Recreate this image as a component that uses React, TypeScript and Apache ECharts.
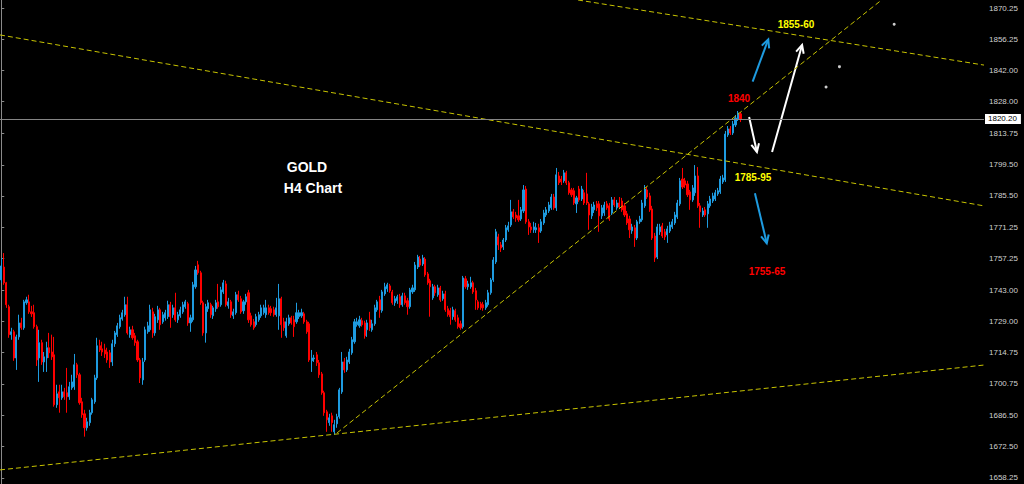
import React, { useEffect, useRef } from "react";
import * as echarts from "echarts";

// ---- candle data (GOLD H4), oldest -> newest ----
const opens = [
1747.6,1753.4,1746.3,1735.5,1722.9,1724.2,1712.4,1721.9,1728.2,1726.0,1737.3,1737.7,1733.2,1732.8,1726.5,1712.4,1719.3,1710.6,1712.4,1717.0,
1715.1,1713.8,1691.3,1697.1,1694.4,1697.1,1696.7,1694.9,1698.9,1699.4,1709.3,1704.8,1692.6,1687.2,1680.9,1683.2,1687.7,1692.6,1703.4,1717.9,
1716.5,1716.0,1715.1,1714.7,1710.6,1718.8,1722.9,1726.5,1730.0,1731.9,1736.4,1722.9,1725.1,1722.4,1719.7,1711.5,1702.5,1711.5,1724.2,1725.1,
1733.2,1723.7,1729.6,1734.1,1728.7,1730.5,1731.0,1736.4,1731.9,1735.0,1729.6,1731.4,1733.2,1735.5,1736.8,1728.2,1729.6,1744.5,1754.4,1750.8,
1737.3,1723.7,1734.6,1736.4,1731.4,1734.6,1737.7,1736.4,1742.2,1745.8,1735.9,1737.7,1731.4,1732.8,1740.9,1739.1,1733.7,1737.7,1741.8,1731.4,
1728.7,1727.4,1729.6,1731.4,1732.8,1731.9,1735.0,1734.6,1734.1,1731.9,1731.4,1739.1,1728.7,1722.4,1727.8,1730.5,1729.6,1728.7,1731.0,1731.4,
1732.3,1728.7,1727.8,1711.1,1712.0,1713.8,1710.2,1705.2,1696.7,1688.1,1683.2,1686.3,1679.1,1682.7,1685.9,1697.1,1710.6,1707.0,1710.6,1714.7,
1719.7,1727.4,1726.9,1729.2,1728.2,1725.1,1729.6,1725.1,1727.8,1734.1,1738.6,1733.7,1741.3,1743.6,1744.9,1742.2,1737.3,1738.2,1740.0,1736.4,
1740.4,1738.2,1735.5,1742.2,1743.1,1753.4,1757.0,1754.8,1757.0,1750.3,1747.2,1739.5,1744.5,1740.9,1744.0,1739.1,1741.3,1734.6,1733.7,1731.0,
1733.7,1730.5,1727.8,1726.5,1748.1,1744.5,1744.5,1746.3,1742.7,1737.7,1736.8,1736.4,1735.0,1736.4,1741.8,1747.6,1755.7,1767.0,1763.4,1762.5,
1765.6,1770.2,1772.4,1778.3,1776.9,1776.5,1775.1,1778.7,1788.6,1773.8,1771.5,1770.2,1770.2,1771.1,1769.7,1773.3,1776.9,1778.7,1780.1,1785.0,
1780.1,1794.5,1793.1,1792.3,1795.9,1791.4,1788.2,1787.8,1781.9,1788.6,1784.1,1786.9,1786.4,1781.9,1776.5,1779.2,1781.9,1781.9,1776.5,1777.8,
1781.9,1781.0,1777.8,1783.7,1780.1,1782.3,1783.2,1781.0,1777.4,1775.1,1769.7,1771.1,1766.5,1773.8,1774.7,1781.0,1788.2,1785.5,1779.6,1767.4,
1757.9,1769.3,1772.0,1769.3,1767.9,1769.7,1771.5,1773.3,1776.0,1781.9,1793.1,1792.3,1790.9,1787.3,1783.7,1786.9,1794.5,
1781.0,1776.9,1779.2,1777.4,1781.0,1783.2,1784.1,1786.4,1787.3,1791.8,1792.7,1813.0,1815.7,1813.9,1817.5,1820.2,1822.5
];
const closes = [
1753.9,1746.3,1736.4,1722.9,1724.2,1712.4,1721.9,1728.2,1726.0,1737.7,1738.6,1733.2,1732.3,1726.5,1711.5,1719.3,1710.6,1712.9,1717.0,1714.7,
1712.9,1691.3,1696.2,1694.4,1697.1,1694.9,1694.9,1699.4,1701.6,1709.3,1704.8,1692.2,1686.8,1680.9,1683.6,1687.7,1693.5,1703.4,1717.9,1716.0,
1715.1,1714.2,1711.5,1710.6,1718.8,1723.7,1726.9,1730.5,1732.8,1736.4,1723.7,1725.1,1721.5,1719.3,1711.5,1703.4,1710.6,1725.1,1726.9,1734.1,
1723.7,1731.0,1734.1,1727.4,1731.9,1732.8,1736.4,1731.0,1735.0,1729.6,1731.9,1734.1,1736.4,1737.7,1728.2,1730.5,1745.4,1752.1,1750.8,1737.3,
1723.7,1735.5,1737.3,1731.9,1735.0,1737.3,1735.5,1743.1,1746.3,1736.4,1737.7,1731.9,1733.2,1740.9,1738.6,1733.2,1737.7,1740.0,1729.6,1727.4,
1726.0,1731.0,1731.9,1735.0,1735.0,1735.0,1732.8,1732.8,1731.9,1735.0,1739.1,1727.4,1726.0,1728.7,1730.5,1728.2,1726.5,1732.8,1732.8,1732.8,
1728.7,1724.2,1711.5,1712.4,1712.4,1710.2,1704.8,1696.7,1687.7,1684.5,1685.4,1683.2,1682.3,1685.9,1698.0,1710.6,1707.0,1711.5,1715.1,1720.6,
1728.7,1728.7,1729.6,1727.4,1722.4,1728.2,1726.0,1727.8,1735.0,1737.7,1734.1,1742.2,1744.5,1745.4,1742.7,1737.3,1739.1,1740.0,1736.4,1740.4,
1737.3,1735.5,1743.1,1744.0,1754.3,1757.9,1754.3,1757.5,1749.9,1746.3,1744.5,1744.5,1741.8,1744.0,1738.6,1741.3,1734.1,1731.9,1731.0,1734.1,
1729.6,1726.5,1726.0,1748.5,1744.5,1745.8,1746.3,1742.2,1738.6,1735.0,1735.0,1735.0,1737.3,1741.8,1747.6,1756.6,1769.3,1763.4,1762.0,1765.6,
1771.1,1772.0,1778.3,1776.0,1775.6,1774.7,1779.2,1788.2,1773.8,1771.5,1770.2,1771.5,1771.1,1769.3,1773.8,1777.8,1779.2,1781.4,1785.0,1780.1,
1795.0,1791.4,1791.8,1795.9,1791.4,1786.9,1786.0,1782.3,1784.6,1783.7,1788.6,1782.3,1782.3,1776.9,1780.5,1781.4,1780.1,1776.5,1780.1,1781.4,
1780.1,1775.1,1783.7,1781.4,1782.3,1780.5,1779.2,1776.9,1773.3,1770.2,1771.5,1766.5,1773.8,1775.1,1782.3,1788.6,1785.0,1779.2,1766.5,1757.5,
1771.5,1771.5,1767.4,1767.0,1770.6,1772.4,1773.8,1776.9,1782.3,1792.3,1789.5,1790.4,1786.0,1783.7,1789.1,1794.5,1781.0,
1778.3,1778.7,1776.9,1781.9,1784.1,1785.5,1786.9,1787.8,1793.1,1793.6,1813.4,1815.7,1813.9,1817.9,1820.6,1822.9,1820.2
];
const lows = [
1746.3,1745.4,1735.0,1721.5,1720.6,1711.1,1707.0,1720.6,1725.1,1725.1,1736.4,1732.3,1730.9,1725.6,1708.8,1701.6,1709.3,1706.1,1706.1,1712.4,
1711.5,1690.4,1689.9,1687.7,1693.5,1693.5,1687.7,1693.5,1698.0,1698.0,1703.4,1691.3,1685.4,1676.9,1679.6,1681.8,1686.8,1691.7,1702.5,1715.1,
1713.3,1712.4,1710.2,1707.9,1708.8,1717.4,1721.9,1725.6,1729.2,1731.0,1722.9,1721.5,1720.6,1717.9,1710.6,1701.1,1700.3,1710.6,1723.3,1724.2,
1721.5,1722.4,1728.2,1725.1,1727.8,1729.2,1730.0,1726.0,1730.5,1728.7,1728.2,1730.5,1732.3,1734.6,1726.9,1724.2,1728.7,1743.6,1749.9,1736.4,
1722.4,1719.3,1733.2,1730.5,1730.0,1733.2,1734.6,1735.5,1741.3,1735.5,1734.6,1730.5,1730.0,1731.9,1737.7,1732.3,1732.3,1736.4,1728.2,1726.5,
1725.1,1726.5,1728.7,1730.5,1731.9,1730.5,1731.9,1731.4,1731.0,1731.0,1725.1,1721.5,1724.6,1721.5,1726.9,1727.4,1721.9,1727.8,1730.0,1730.5,
1727.8,1723.3,1710.6,1706.1,1710.6,1708.8,1703.4,1695.8,1686.3,1679.1,1681.8,1679.1,1677.8,1680.9,1685.0,1696.2,1705.7,1706.1,1709.7,1713.8,
1718.8,1726.5,1726.0,1726.5,1721.1,1721.9,1724.6,1724.2,1726.9,1733.2,1730.5,1732.8,1740.4,1742.2,1741.8,1736.4,1735.9,1736.8,1735.0,1735.5,
1736.4,1731.9,1734.6,1741.3,1742.2,1752.5,1753.4,1753.9,1749.0,1745.4,1731.0,1738.6,1740.4,1740.0,1737.7,1738.2,1733.2,1731.0,1727.4,1729.6,
1728.7,1725.6,1725.1,1725.6,1743.6,1743.1,1743.6,1741.3,1734.1,1734.1,1734.1,1733.7,1734.1,1735.5,1740.9,1746.7,1754.8,1761.1,1760.2,1761.1,
1764.7,1769.3,1771.5,1775.1,1773.8,1773.8,1774.2,1777.8,1772.9,1767.9,1768.8,1768.8,1768.8,1764.3,1768.8,1772.4,1776.0,1777.8,1779.2,1779.2,
1778.7,1790.4,1790.4,1791.4,1790.4,1786.0,1785.0,1781.4,1777.8,1782.8,1783.2,1781.4,1781.4,1770.2,1775.1,1777.8,1778.7,1769.3,1775.1,1776.5,
1779.2,1774.2,1776.9,1780.5,1779.2,1779.6,1778.3,1776.0,1772.4,1766.5,1768.4,1762.5,1765.6,1772.9,1773.8,1780.1,1784.1,1778.3,1765.6,1755.7,
1757.0,1767.9,1766.5,1765.6,1764.3,1768.8,1770.6,1772.4,1775.1,1781.0,1788.6,1789.1,1785.0,1779.2,1782.8,1785.5,1780.1,
1771.1,1776.0,1776.0,1771.1,1780.1,1782.3,1783.2,1785.5,1786.4,1790.9,1791.8,1812.1,1813.0,1813.0,1816.6,1819.3,1818.8
];
const highs = [
1757.5,1759.7,1746.7,1736.4,1726.0,1725.1,1722.9,1731.9,1730.5,1738.6,1740.0,1740.9,1735.9,1736.4,1727.4,1725.1,1720.6,1715.1,1719.7,1723.7,
1722.9,1721.9,1700.3,1700.3,1700.3,1698.9,1707.9,1701.6,1704.8,1714.2,1710.2,1705.7,1694.4,1689.0,1685.4,1689.0,1694.4,1704.8,1721.5,1720.6,
1719.7,1718.8,1717.0,1716.0,1720.6,1724.6,1728.2,1731.9,1734.1,1740.0,1740.0,1726.5,1726.9,1723.7,1720.6,1712.4,1712.4,1726.5,1728.7,1736.4,
1735.0,1732.3,1735.9,1735.0,1733.2,1734.1,1738.2,1737.7,1736.4,1741.8,1733.2,1735.5,1737.7,1738.6,1737.7,1731.9,1746.7,1753.9,1756.2,1751.7,
1738.2,1736.8,1738.6,1737.3,1735.9,1738.6,1745.8,1744.5,1747.6,1747.2,1739.5,1738.6,1734.6,1742.2,1742.7,1740.4,1738.6,1741.3,1743.1,1732.8,
1730.0,1732.3,1733.2,1736.4,1736.4,1738.6,1736.4,1735.9,1735.5,1739.5,1745.8,1740.0,1730.5,1730.5,1731.9,1731.4,1731.4,1737.3,1734.1,1734.6,
1733.2,1729.6,1728.7,1716.0,1713.8,1715.1,1711.5,1706.1,1697.6,1689.0,1687.2,1687.7,1684.5,1687.2,1698.9,1715.1,1712.4,1712.9,1716.5,1721.9,
1730.0,1730.5,1731.4,1730.5,1729.2,1729.6,1733.2,1729.6,1736.4,1738.6,1740.4,1743.1,1746.3,1746.3,1745.8,1743.1,1740.4,1740.9,1741.3,1741.8,
1741.8,1739.5,1744.0,1745.4,1755.7,1758.9,1758.4,1758.9,1757.9,1751.2,1748.1,1745.8,1745.4,1745.4,1744.9,1742.7,1742.7,1735.9,1735.0,1735.5,
1734.6,1731.9,1729.2,1749.4,1749.4,1747.2,1749.0,1747.2,1744.0,1738.6,1737.7,1737.7,1738.6,1743.1,1748.5,1757.9,1770.6,1768.4,1764.7,1766.5,
1772.4,1773.8,1783.7,1779.6,1778.3,1783.7,1780.5,1790.4,1790.0,1775.1,1773.3,1773.8,1773.3,1772.9,1775.1,1779.2,1780.5,1782.8,1786.4,1786.4,
1798.1,1796.3,1794.5,1797.2,1796.8,1792.3,1789.1,1789.1,1785.5,1790.0,1790.0,1788.2,1795.9,1782.8,1781.9,1782.8,1783.2,1783.2,1781.4,1782.8,
1783.2,1782.3,1785.0,1785.0,1783.7,1785.0,1784.6,1782.3,1778.7,1776.5,1772.9,1772.4,1774.7,1776.5,1783.7,1790.4,1789.5,1786.9,1781.0,1768.8,
1772.9,1772.9,1773.3,1770.6,1772.0,1773.8,1775.1,1778.3,1783.7,1793.6,1798.1,1793.6,1792.3,1788.2,1790.4,1799.4,1798.5,
1782.3,1780.1,1780.5,1783.2,1785.5,1786.9,1788.2,1789.1,1794.5,1795.0,1814.8,1817.0,1817.0,1819.3,1822.0,1823.8,1823.3
];

// total bar slots on the chart (data + empty right-side shift)
const TOTAL_SLOTS = 390;

// price axis tick labels
const yTicks = [1658.25,1672.5,1686.5,1700.75,1714.75,1729,1743,1757.25,1771.25,1785.5,1799.5,1813.75,1828,1842,1856.25,1870.25];
const yMin = 1655.54;
const yMax = 1873.86;
const currentPrice = 1820.2;

// trend lines: [slot position, price] pairs
const trendLines = [
  [[228.6, 1873.86], [389.5, 1844.5]],
  [[-0.5, 1858.1], [389.5, 1781.0]],
  [[133.1, 1678.6], [348.9, 1873.86]],
  [[-0.5, 1661.9], [389.5, 1709.2]],
];

// arrows: [from, to] in [slot position, price]
const blueArrows = [
  [[297.8, 1837.0], [304.0, 1856.1]],
  [[298.7, 1786.7], [303.4, 1764.1]],
];
const whiteArrows = [
  [[296.4, 1821.1], [299.5, 1805.3]],
  [[305.5, 1805.3], [317.4, 1853.6]],
];

// small white marker dots
const dots = [[353.9, 1862.9], [332.2, 1843.8], [326.9, 1834.6]];

const BULL = "#1E9BE0";
const BEAR = "#FF0000";
const FONT = "Liberation Sans, Arial, sans-serif";

export default function App() {
  const ref = useRef<HTMLDivElement>(null);
  useEffect(() => {
    if (!ref.current) return;
    const chart = echarts.init(ref.current, null, { renderer: "svg" });
    const cats = Array.from({ length: TOTAL_SLOTS }, (_, i) => String(i));
    const candleData = opens.map((o, i) => [o, closes[i], lows[i], highs[i]]);

    const option: any = {
      animation: false,
      backgroundColor: "#000000",
      grid: { left: 0, right: 40, top: 0, bottom: 0, containLabel: false },
      xAxis: [
        { type: "category", data: cats, show: false, boundaryGap: true },
        { type: "value", min: -0.5, max: TOTAL_SLOTS - 0.5, show: false },
      ],
      yAxis: {
        type: "value",
        position: "right",
        min: yMin,
        max: yMax,
        splitLine: { show: false },
        axisLine: { show: true, lineStyle: { color: "#8a8a8a", width: 1 } },
        axisTick: { show: true, length: 3, lineStyle: { color: "#8a8a8a" }, customValues: yTicks },
        axisLabel: {
          color: "#d0d0d0",
          fontSize: 8,
          fontFamily: FONT,
          margin: 5,
          customValues: yTicks,
          formatter: (v: number) => v.toFixed(2),
        },
      },
      series: [
        {
          type: "candlestick",
          xAxisIndex: 0,
          yAxisIndex: 0,
          data: candleData,
          barWidth: 1.6,
          itemStyle: {
            color: BULL,
            color0: BEAR,
            borderColor: BULL,
            borderColor0: BEAR,
            borderWidth: 1,
          },
          markLine: {
            silent: true,
            symbol: ["none", "none"],
            lineStyle: { color: "#858585", width: 1, type: "solid" },
            label: {
              show: true,
              position: "end",
              formatter: () => currentPrice.toFixed(2),
              backgroundColor: "#ffffff",
              color: "#000000",
              fontSize: 8,
              fontFamily: FONT,
              padding: [1, 4, 1, 3],
              distance: 1,
            },
            data: [{ yAxis: currentPrice }],
          },
        },
        ...trendLines.map((pts) => ({
          type: "line",
          xAxisIndex: 1,
          yAxisIndex: 0,
          data: pts,
          symbol: "none",
          silent: true,
          lineStyle: { color: "#C8C400", width: 1, type: [5, 3] },
        })),
        {
          type: "scatter",
          xAxisIndex: 1,
          yAxisIndex: 0,
          data: dots,
          symbolSize: 3,
          silent: true,
          itemStyle: { color: "#ffffff" },
        },
      ],
      graphic: [
        { type: "text", x: 307, y: 167, style: { text: "GOLD", fill: "#fff", font: `bold 14px ${FONT}`, align: "center", verticalAlign: "middle" } },
        { type: "text", x: 313, y: 188, style: { text: "H4 Chart", fill: "#fff", font: `bold 14px ${FONT}`, align: "center", verticalAlign: "middle" } },
        { type: "text", x: 739, y: 98, style: { text: "1840", fill: "#ff0000", font: `bold 10px ${FONT}`, align: "center", verticalAlign: "middle" } },
        { type: "text", x: 796, y: 24.5, style: { text: "1855-60", fill: "#ffff00", font: `bold 10px ${FONT}`, align: "center", verticalAlign: "middle" } },
        { type: "text", x: 753, y: 177, style: { text: "1785-95", fill: "#ffff00", font: `bold 10px ${FONT}`, align: "center", verticalAlign: "middle" } },
        { type: "text", x: 767, y: 271, style: { text: "1755-65", fill: "#ff0000", font: `bold 10px ${FONT}`, align: "center", verticalAlign: "middle" } },
      ],
    };
    chart.setOption(option);

    const toPx = (p: number[]) => chart.convertToPixel({ xAxisIndex: 1, yAxisIndex: 0 } as any, p) as number[];
    const arrow = (a: number[], b: number[], color: string, w: number, head: number) => {
      const A = toPx(a);
      const B = toPx(b);
      const dx = B[0] - A[0];
      const dy = B[1] - A[1];
      const len = Math.sqrt(dx * dx + dy * dy) || 1;
      const ux = dx / len;
      const uy = dy / len;
      const ang = 0.45;
      const rot = (x: number, y: number, t: number) => [x * Math.cos(t) - y * Math.sin(t), x * Math.sin(t) + y * Math.cos(t)];
      const r1 = rot(ux, uy, ang);
      const r2 = rot(ux, uy, -ang);
      const L = [B[0] - head * r1[0], B[1] - head * r1[1]];
      const R = [B[0] - head * r2[0], B[1] - head * r2[1]];
      return [
        { type: "line", shape: { x1: A[0], y1: A[1], x2: B[0], y2: B[1] }, style: { stroke: color, lineWidth: w }, silent: true },
        { type: "polyline", shape: { points: [L, B, R] }, style: { stroke: color, lineWidth: w, fill: null }, silent: true },
      ];
    };
    const arrowGraphics: any[] = [];
    blueArrows.forEach((ar) => arrowGraphics.push(...arrow(ar[0], ar[1], BULL, 2, 9)));
    whiteArrows.forEach((ar) => arrowGraphics.push(...arrow(ar[0], ar[1], "#ffffff", 2, 9)));
    chart.setOption({ graphic: [...option.graphic, ...arrowGraphics] });

    return () => chart.dispose();
  }, []);
  return (
    <div
      ref={ref}
      style={{ position: "absolute", left: 0, top: 0, width: 1024, height: 484, background: "#000" }}
    />
  );
}
